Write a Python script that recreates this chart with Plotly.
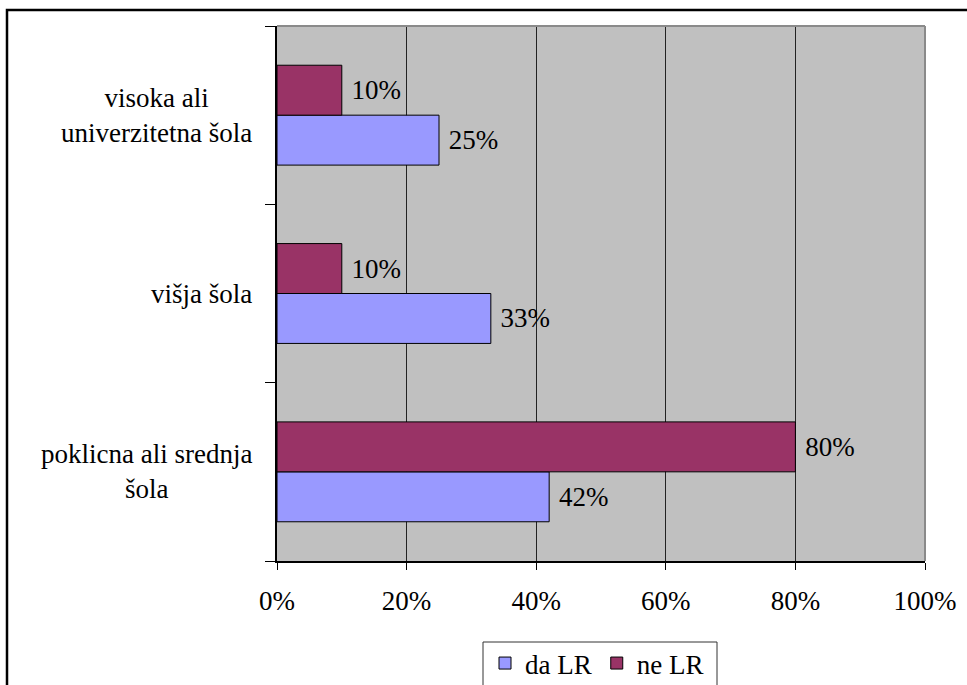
import plotly.graph_objects as go

# Education level categories, bottom to top
categories = ["poklicna ali srednja šola", "višja šola", "visoka ali univerzitetna šola"]
category_labels = ["poklicna ali srednja<br>šola", "višja šola", "visoka ali<br>univerzitetna šola"]

# Shares per group
da_lr = [0.42, 0.33, 0.25]
ne_lr = [0.80, 0.10, 0.10]

x_ticks = [0, 0.2, 0.4, 0.6, 0.8, 1.0]
x_tick_text = ["0%", "20%", "40%", "60%", "80%", "100%"]

FONT = "Liberation Serif"
FS = 27

W, H = 967, 685
L, R, T, B = 277, 42, 26, 124
pw, ph = W - L - R, H - T - B


def px_x(px):
    return (px - L) / pw


def px_y(py):
    return (H - B - py) / ph


def serif():
    return dict(family=FONT, size=FS, color="black")


fig = go.Figure()
fig.add_trace(go.Bar(
    y=categories, x=da_lr, orientation="h", name="da LR",
    marker=dict(color="#9999FF", line=dict(color="black", width=1)),
    texttemplate=" %{x:.0%}", textposition="outside",
    textfont=serif(), outsidetextfont=serif(),
    cliponaxis=False,
))
fig.add_trace(go.Bar(
    y=categories, x=ne_lr, orientation="h", name="ne LR",
    marker=dict(color="#993366", line=dict(color="black", width=1)),
    texttemplate=" %{x:.0%}", textposition="outside",
    textfont=serif(), outsidetextfont=serif(),
    cliponaxis=False,
))

annotations = [
    dict(x=px_x(254), y=c, xref="paper", yref="y", text=t, showarrow=False,
         xanchor="right", yanchor="middle", align="center", font=serif())
    for c, t in zip(categories, category_labels)
]

shapes = [
    # plot area top/right edge
    dict(type="line", xref="paper", yref="paper", x0=0, x1=1, y0=1, y1=1,
         line=dict(color="#8a8a8a", width=2)),
    dict(type="line", xref="paper", yref="paper", x0=1, x1=1, y0=0, y1=1,
         line=dict(color="#8a8a8a", width=2)),
    # legend frame
    dict(type="rect", xref="paper", yref="paper", x0=px_x(483), x1=px_x(717),
         y0=px_y(720), y1=px_y(642), line=dict(color="#333333", width=1)),
    # outer chart frame
    dict(type="rect", xref="paper", yref="paper", x0=px_x(7), x1=px_x(990),
         y0=px_y(760), y1=px_y(10), line=dict(color="black", width=2.5)),
]

fig.update_layout(
    width=W, height=H,
    margin=dict(l=L, r=R, t=T, b=B, autoexpand=False),
    paper_bgcolor="white",
    plot_bgcolor="#C0C0C0",
    barmode="group",
    bargap=0.44,
    bargroupgap=0,
    showlegend=True,
    legend=dict(
        orientation="h", x=px_x(597), xanchor="center", y=px_y(639), yanchor="top",
        font=serif(),
        bgcolor="rgba(0,0,0,0)", borderwidth=0, traceorder="normal",
    ),
    annotations=annotations,
    shapes=shapes,
    xaxis=dict(
        range=[0, 1], tickvals=x_ticks, ticktext=x_tick_text,
        showgrid=True, gridcolor="#222222", gridwidth=1,
        ticks="outside", ticklen=7, tickcolor="black", tickwidth=1,
        showline=True, linecolor="black", linewidth=1.5,
        zeroline=False, ticklabelstandoff=8,
        tickfont=serif(),
        fixedrange=True,
    ),
    yaxis=dict(
        type="category", categoryorder="array", categoryarray=categories,
        range=[-0.5, 2.5], showticklabels=False, showgrid=False,
        ticks="outside", tickson="boundaries", ticklen=10, tickcolor="black",
        showline=True, linecolor="black", linewidth=1.5,
        fixedrange=True,
    ),
)

fig.write_html("out.html")
